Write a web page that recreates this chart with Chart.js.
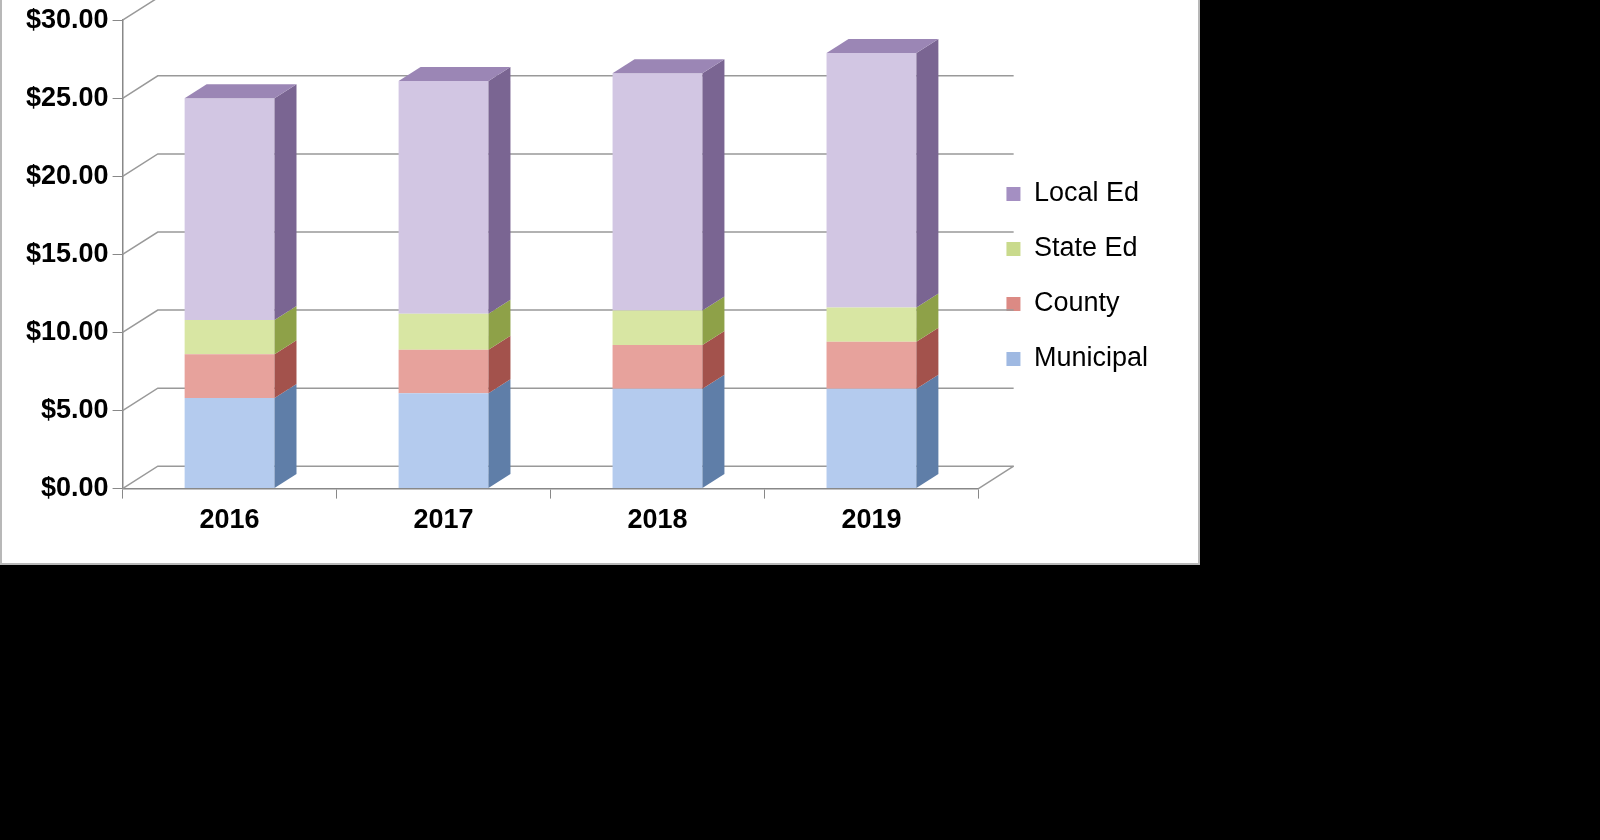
<!DOCTYPE html>
<html><head><meta charset="utf-8">
<script src="https://cdn.jsdelivr.net/npm/chart.js@4"></script>
<style>
html,body{margin:0;padding:0;background:#000;width:1600px;height:840px;overflow:hidden}
#panel{position:absolute;left:0;top:0;width:1196px;height:563px;background:#fff;border:2px solid #b8b8b8;border-top:none}
#wrap{position:absolute;left:0;top:0;width:1196px;height:563px}
</style></head><body>
<div id="panel"><div id="wrap"><canvas id="c"></canvas></div></div>
<script>
const years=['2016','2017','2018','2019'];
const municipal=[5.8,6.1,6.4,6.4];
const county=[2.8,2.8,2.8,3.0];
const stateEd=[2.2,2.3,2.2,2.2];
const localEd=[14.2,14.9,15.2,16.3];
const yTicks=[0,5,10,15,20,25,30];

const side={Municipal:'#5f7ea8',County:'#a3524c',StateEd:'#8ea148',LocalEd:'#7a6592'};
const DX=22,DY=-14;
const threeD={id:'threeD',
 beforeDatasetsDraw(ch){const {ctx,chartArea:a,scales:{x,y}}=ch;ctx.save();
  ctx.strokeStyle='#999';ctx.lineWidth=1.5;
  yTicks.forEach(t=>{const py=y.getPixelForValue(t);ctx.beginPath();ctx.moveTo(a.left,py);ctx.lineTo(a.left+DX*1.6,py+DY*1.6);ctx.lineTo(a.right+DX*1.6,py+DY*1.6);ctx.stroke();});
  const b=y.getPixelForValue(0);ctx.beginPath();ctx.moveTo(a.right,b);ctx.lineTo(a.right+DX*1.6,b+DY*1.6);ctx.stroke();
  ctx.restore();},
 afterDatasetsDraw(ch){const ctx=ch.ctx;ctx.save();
  ch.data.datasets.forEach((ds,i)=>{const m=ch.getDatasetMeta(i);
   m.data.forEach(bar=>{const l=bar.x-bar.width/2,r=bar.x+bar.width/2,t=Math.min(bar.y,bar.base),bt=Math.max(bar.y,bar.base);
    ctx.fillStyle=ds.sideColor;ctx.beginPath();ctx.moveTo(r,bt);ctx.lineTo(r+DX,bt+DY);ctx.lineTo(r+DX,t+DY);ctx.lineTo(r,t);ctx.closePath();ctx.fill();
    if(i===ch.data.datasets.length-1){ctx.fillStyle='#9b86b5';ctx.beginPath();ctx.moveTo(l,t);ctx.lineTo(l+DX,t+DY);ctx.lineTo(r+DX,t+DY);ctx.lineTo(r,t);ctx.closePath();ctx.fill();}
   });});
  ctx.restore();}};

function grad(c1,c2){return (c)=>{const ch=c.chart;const el=c.element;
 if(!el||!Number.isFinite(el.x)||!Number.isFinite(el.width))return c1;
 const g=ch.ctx.createLinearGradient(el.x-el.width/2,0,el.x+el.width/2,0);g.addColorStop(0,c1);g.addColorStop(1,c2);return g;};}

new Chart(document.getElementById('c'),{type:'bar',
 data:{labels:years,datasets:[
  {label:'Municipal',data:municipal,backgroundColor:grad('#b4cbee','#86a2cf'),sideColor:side.Municipal},
  {label:'County',data:county,backgroundColor:grad('#e7a29c','#c8655e'),sideColor:side.County},
  {label:'State Ed',data:stateEd,backgroundColor:grad('#d8e6a3','#b5c868'),sideColor:side.StateEd},
  {label:'Local Ed',data:localEd,backgroundColor:grad('#d2c6e3','#a894c4'),sideColor:side.LocalEd}]},
 options:{responsive:true,maintainAspectRatio:false,animation:false,
  layout:{padding:{top:10,left:20,right:40,bottom:20}},
  datasets:{bar:{barPercentage:0.42,categoryPercentage:1}},
  plugins:{tooltip:{enabled:false},
   legend:{position:'right',reverse:true,labels:{boxWidth:14,boxHeight:14,padding:28,color:'#000',font:{family:'Liberation Sans, Arial',size:27},
    generateLabels(ch){return ch.data.datasets.map((d,i)=>({text:d.label,fillStyle:['#9fb9e2','#dc8a84','#c9da8c','#a48fc2'][i],strokeStyle:'transparent',lineWidth:0,datasetIndex:i}));}}}},
  scales:{
   x:{stacked:true,grid:{display:true,drawOnChartArea:false,color:'#888',tickLength:10},border:{color:'#888',width:1.5},
      ticks:{color:'#000',padding:6,font:{family:'Liberation Sans, Arial',size:27,weight:'bold'}}},
   y:{stacked:true,min:0,max:30,afterBuildTicks(ax){ax.ticks=yTicks.map(v=>({value:v}));},
      grid:{display:true,drawOnChartArea:false,color:'#888',tickLength:10},border:{color:'#888',width:1.5},
      ticks:{color:'#000',padding:4,callback:v=>'$'+Number(v).toFixed(2),font:{family:'Liberation Sans, Arial',size:27,weight:'bold'}}}}},
 plugins:[threeD]});
</script></body></html>
